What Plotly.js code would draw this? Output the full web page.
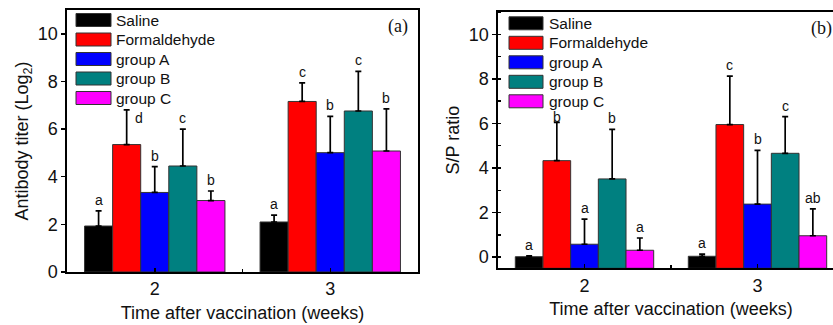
<!DOCTYPE html>
<html>
<head>
<meta charset="utf-8">
<script src="https://cdn.plot.ly/plotly-3.0.1.min.js"></script>
<style>
html, body { margin: 0; padding: 0; overflow: hidden; background: #fff; }
#chart { width: 845px; height: 325px; }
</style>
</head>
<body>
<div id="chart"></div>
<script>
// ---- data ----
const weeks = [2, 3];
const weekLabels = ['2', '3'];
const groups = ['Saline', 'Formaldehyde', 'group A', 'group B', 'group C'];
const groupColors = ['#000000', '#FF0000', '#0000FF', '#008080', '#FF00FF'];

// (a) Antibody titer (Log2): mean and upper SD per group
const titerWeek2 = [1.93, 5.35, 3.34, 4.45, 3.00];
const titerWeek3 = [2.10, 7.16, 5.01, 6.76, 5.08];
const titerErrWeek2 = [0.64, 1.46, 1.08, 1.55, 0.40];
const titerErrWeek3 = [0.29, 0.78, 1.52, 1.66, 1.77];
const titerLetters2 = ['a', 'd', 'b', 'c', 'b'];
const titerLetters3 = ['a', 'c', 'b', 'c', 'b'];

// (b) S/P ratio
const spWeek2 = [0.02, 4.33, 0.58, 3.51, 0.31];
const spWeek3 = [0.04, 5.95, 2.38, 4.66, 0.96];
const spErrWeek2 = [0.04, 1.72, 1.13, 2.22, 0.55];
const spErrWeek3 = [0.10, 2.17, 2.41, 1.65, 1.21];
const spLetters2 = ['a', 'b', 'a', 'b', 'a'];
const spLetters3 = ['a', 'c', 'b', 'c', 'ab'];

// ---- layout helpers ----
const W = 845, H = 325;
const px = v => v / W;
const py = v => 1 - v / H;
const FONT = 'Liberation Sans, Arial, sans-serif';
const SERIF = 'Liberation Serif, Times New Roman, serif';
const BAR_W = 0.16;

const traces = [];
const annotations = [];
const shapes = [];

function addPanel(xa, ya, base, m2, m3, e2, e3, l2, l3, special) {
  groups.forEach((g, i) => {
    traces.push({
      type: 'bar',
      name: g,
      x: weeks,
      base: base,
      y: [m2[i] - base, m3[i] - base],
      xaxis: xa, yaxis: ya,
      marker: { color: groupColors[i], line: { color: '#333333', width: 1 } },
      error_y: {
        type: 'data', symmetric: false,
        array: [e2[i], e3[i]], arrayminus: [0, 0],
        color: '#000000', thickness: 1.7, width: 3
      },
      showlegend: false,
      hoverinfo: 'skip'
    });
    [[m2, e2, l2, 0], [m3, e3, l3, 1]].forEach(([m, e, l, k]) => {
      const sp = special[`${k}-${i}`] || {};
      annotations.push({
        xref: xa, yref: ya,
        x: weeks[k] + (i - 2) * BAR_W,
        y: m[i] + e[i],
        text: l[i],
        showarrow: false,
        xanchor: 'center',
        yanchor: sp.yanchor || 'bottom',
        xshift: sp.xshift || 0,
        yshift: sp.yshift !== undefined ? sp.yshift : 1,
        font: { family: FONT, size: 14, color: '#111' }
      });
    });
  });
}

addPanel('x', 'y', 0, titerWeek2, titerWeek3, titerErrWeek2, titerErrWeek3,
  titerLetters2, titerLetters3, { '0-1': { yanchor: 'top', xshift: 12, yshift: 2 } });
addPanel('x2', 'y2', -0.5, spWeek2, spWeek3, spErrWeek2, spErrWeek3,
  spLetters2, spLetters3, { '0-1': { yshift: -5 } });

// custom wide-swatch legends
function addLegend(x0, x1, textX, top) {
  groups.forEach((g, i) => {
    shapes.push({
      type: 'rect', xref: 'paper', yref: 'paper',
      x0: px(x0), x1: px(x1),
      y0: py(top + i * 19.5 - 6.5), y1: py(top + i * 19.5 + 6.5),
      fillcolor: groupColors[i], line: { color: '#333333', width: 1 }
    });
    annotations.push({
      xref: 'paper', yref: 'paper',
      x: px(textX), y: py(top + i * 19.5),
      text: g, showarrow: false, xanchor: 'left', yanchor: 'middle',
      font: { family: FONT, size: 15.5, color: '#111' }
    });
  });
}
addLegend(76, 111, 114, 20);
addLegend(509, 543, 547, 23.3);

annotations.push({
  xref: 'paper', yref: 'paper', x: px(397.5), y: py(27),
  text: '(a)', showarrow: false, xanchor: 'center', yanchor: 'middle',
  font: { family: SERIF, size: 18, color: '#111' }
});
annotations.push({
  xref: 'paper', yref: 'paper', x: px(821), y: py(28.5),
  text: '(b)', showarrow: false, xanchor: 'center', yanchor: 'middle',
  font: { family: SERIF, size: 18, color: '#111' }
});

const xCommon = {
  type: 'linear', tickvals: weeks, ticktext: weekLabels,
  ticks: 'inside', ticklen: 4, tickwidth: 1.5, tickcolor: '#000',
  minor: { tickvals: [2.5], ticks: 'inside', ticklen: 3, tickwidth: 1.5, tickcolor: '#000' },
  showline: true, linecolor: '#000', linewidth: 1.6, mirror: true,
  showgrid: false, zeroline: false, range: [1.5, 3.5], fixedrange: true,
  tickfont: { family: FONT, size: 18, color: '#111' },
  title: { text: 'Time after vaccination (weeks)', font: { family: FONT, size: 18, color: '#111' }, standoff: 8 }
};
const yCommon = {
  dtick: 2, tick0: 0,
  ticks: 'outside', ticklen: 4, tickwidth: 1.5, tickcolor: '#000',
  showline: true, linecolor: '#000', linewidth: 1.6, mirror: true,
  showgrid: false, zeroline: false, fixedrange: true,
  tickfont: { family: FONT, size: 18, color: '#111' }
};

const layout = {
  width: W, height: H,
  margin: { l: 0, r: 0, t: 0, b: 0 },
  paper_bgcolor: '#fff', plot_bgcolor: '#fff',
  barmode: 'group', bargap: 0.2, bargroupgap: 0,
  showlegend: false,
  xaxis: Object.assign({}, xCommon, { domain: [px(67), px(418)], anchor: 'y' }),
  yaxis: Object.assign({}, yCommon, {
    domain: [py(272), py(10)], anchor: 'x', range: [0, 11],
    title: { text: 'Antibody titer (Log<sub>2</sub>)', font: { family: FONT, size: 18, color: '#111' }, standoff: 4 }
  }),
  xaxis2: Object.assign({}, xCommon, { domain: [px(498), px(844)], anchor: 'y2' }),
  yaxis2: Object.assign({}, yCommon, {
    domain: [py(268.3), py(12)], anchor: 'x2', range: [-0.5, 11],
    minor: { dtick: 1, tick0: 0, ticks: 'inside', ticklen: 3, tickwidth: 1.5, tickcolor: '#000' },
    title: { text: 'S/P ratio', font: { family: FONT, size: 18, color: '#111' }, standoff: 4 }
  }),
  annotations: annotations,
  shapes: shapes
};

Plotly.newPlot('chart', traces, layout, { displayModeBar: false, staticPlot: true });
</script>
</body>
</html>
